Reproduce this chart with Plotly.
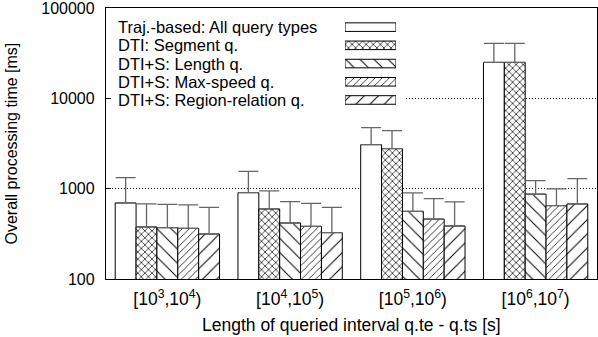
import plotly.graph_objects as go

categories = ["[10<sup>3</sup>,10<sup>4</sup>)", "[10<sup>4</sup>,10<sup>5</sup>)",
              "[10<sup>5</sup>,10<sup>6</sup>)", "[10<sup>6</sup>,10<sup>7</sup>)"]
series_names = ["Traj.-based: All query types", "DTI: Segment q.", "DTI+S: Length q.",
                "DTI+S: Max-speed q.", "DTI+S: Region-relation q."]
values = [
    [695, 903, 3070, 25000],
    [377, 596, 2774, 25000],
    [370, 417, 561, 870],
    [364, 383, 461, 649],
    [315, 326, 386, 677],
]
err_top = [
    [1324, 1555, 4735, 40600],
    [677, 943, 4385, 40600],
    [670, 718, 896, 1226],
    [660, 687, 776, 993],
    [621, 621, 713, 1290],
]
y_tickvals = [100, 1000, 10000, 100000]
y_ticktext = ["100", "1000", "10000", "100000"]

patterns = ["", "x", "\\", "/", "/"]
psizes = [8, 5, 10, 5, 10]
psolid = [0.3, 0.25, 0.1, 0.15, 0.1]

FONT = "Liberation Sans"
fig = go.Figure()
for i, name in enumerate(series_names):
    fig.add_trace(go.Bar(
        x=categories, y=values[i], name=name, showlegend=False,
        marker=dict(color="white", line=dict(color="black", width=1),
                    pattern=dict(shape=patterns[i], size=psizes[i], solidity=psolid[i],
                                 fgcolor="black", bgcolor="white", fillmode="replace")),
        error_y=dict(type="data", symmetric=False,
                     array=[e - v for e, v in zip(err_top[i], values[i])],
                     arrayminus=[0] * 4, color="#666666", thickness=1.3, width=10),
    ))

# legend swatches (text left, swatch right)
fig.add_trace(go.Bar(
    y=series_names, x=[1] * 5, orientation="h", xaxis="x2", yaxis="y2", showlegend=False,
    width=0.47,
    marker=dict(color="white", line=dict(color="black", width=1),
                pattern=dict(shape=patterns, size=psizes, solidity=psolid,
                             fgcolor="black", bgcolor="white", fillmode="replace")),
    hoverinfo="skip",
))
for i, name in enumerate(series_names):
    fig.add_annotation(x=0.0205, xref="paper", y=name, yref="y2", text=name,
                       showarrow=False, xanchor="left", yanchor="middle",
                       font=dict(family=FONT, size=16.5, color="black"))

# legend background masks the grid line behind the key
for mx0, mx1 in [(0.012, 0.487), (0.593, 0.611)]:
    fig.add_shape(type="rect", xref="paper", yref="paper", x0=mx0, x1=mx1,
                  y0=0.649, y1=0.686, fillcolor="white", line=dict(width=0), layer="above")

# axis titles
fig.add_annotation(x=-0.1934, xref="paper", y=0.5, yref="paper", textangle=-90,
                   text="Overall processing time [ms]", showarrow=False,
                   xanchor="center", yanchor="middle",
                   font=dict(family=FONT, size=16, color="black"))
fig.add_annotation(x=0.5, xref="paper", y=-0.17, yref="paper",
                   text="Length of queried interval q.te - q.ts [s]", showarrow=False,
                   xanchor="center", yanchor="middle",
                   font=dict(family=FONT, size=17.5, color="black"))

fig.update_layout(
    width=598, height=337,
    margin=dict(l=106, r=1, t=8, b=58, autoexpand=False),
    paper_bgcolor="white", plot_bgcolor="white",
    barmode="group", bargap=0.15, bargroupgap=0,
    font=dict(family=FONT, size=16, color="black"),
    xaxis=dict(automargin=False,
               showline=True, linecolor="black", linewidth=1.3, mirror=True,
               ticks="", tickfont=dict(size=17.5), ticklabelstandoff=4),
    yaxis=dict(type="log", range=[2, 5], tickvals=y_tickvals, ticktext=y_ticktext,
               automargin=False, ticklabeloverflow="allow", ticklabelstandoff=7,
               showline=True, linecolor="black", linewidth=1.3, mirror=True,
               ticks="inside", ticklen=5, tickcolor="black",
               showgrid=True, gridcolor="black", griddash="1px,2px", gridwidth=1,
               tickfont=dict(size=16)),
    xaxis2=dict(domain=[0.4868, 0.5906], range=[0, 1], visible=False, anchor="y2",
                automargin=False),
    yaxis2=dict(domain=[0.62, 0.97], visible=False, anchor="x2", autorange="reversed",
                type="category", automargin=False),
)

fig.write_html("out.html",
               post_script="document.body.style.margin='0';document.body.style.overflow='hidden';")
